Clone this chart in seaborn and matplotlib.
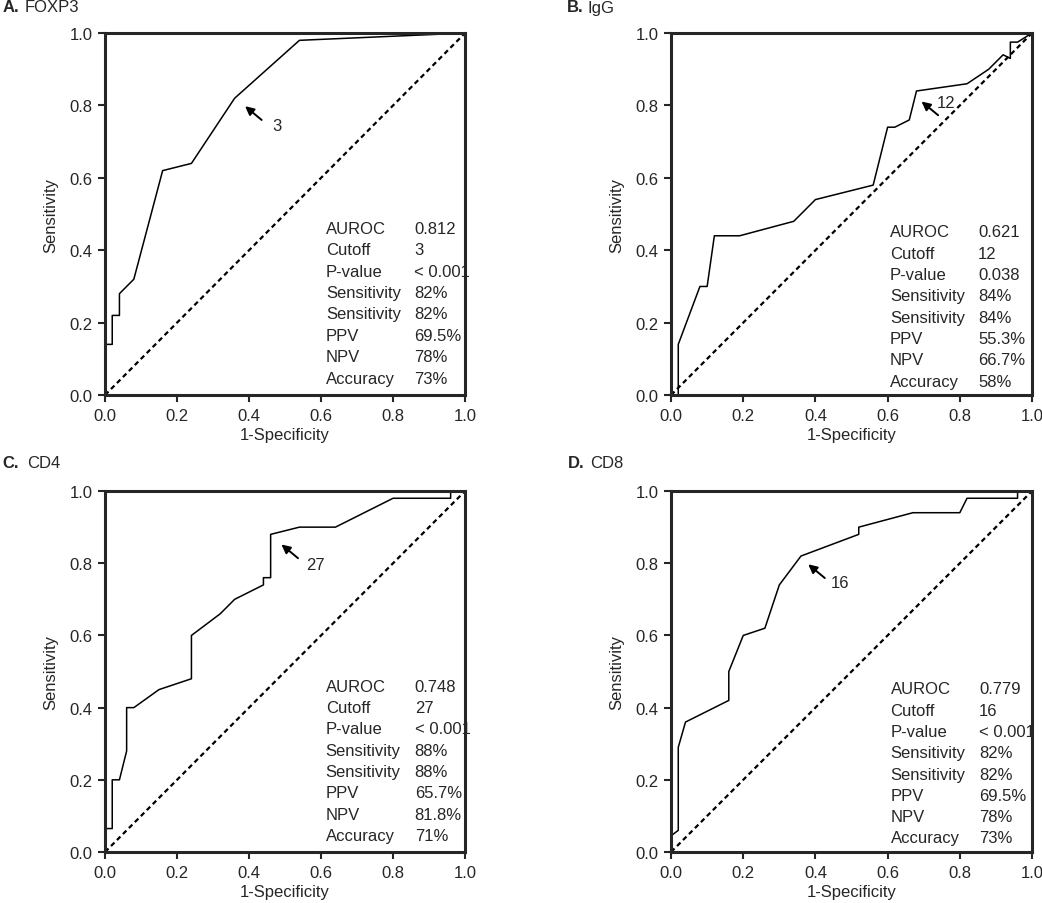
import numpy as np
import pandas as pd
import seaborn as sns
import matplotlib.pyplot as plt

# ROC curve points
foxp3_fpr = [0.0, 0.0, 0.02, 0.02, 0.04, 0.04, 0.08, 0.16, 0.24, 0.36, 0.54, 1.0]
foxp3_tpr = [0.0, 0.14, 0.14, 0.22, 0.22, 0.28, 0.32, 0.62, 0.64, 0.82, 0.98, 1.0]

igg_fpr = [0.0, 0.02, 0.02, 0.08, 0.10, 0.12, 0.19, 0.34, 0.40, 0.56, 0.60, 0.62,
           0.66, 0.68, 0.82, 0.88, 0.92, 0.94, 0.94, 0.96, 1.0]
igg_tpr = [0.0, 0.0, 0.14, 0.30, 0.30, 0.44, 0.44, 0.48, 0.54, 0.58, 0.74, 0.74,
           0.76, 0.84, 0.86, 0.90, 0.94, 0.93, 0.975, 0.975, 1.0]

cd4_fpr = [0.0, 0.0, 0.02, 0.02, 0.04, 0.06, 0.06, 0.08, 0.15, 0.24, 0.24, 0.32,
           0.36, 0.44, 0.44, 0.46, 0.46, 0.54, 0.64, 0.80, 0.96, 0.96, 1.0]
cd4_tpr = [0.0, 0.065, 0.065, 0.20, 0.20, 0.28, 0.40, 0.40, 0.45, 0.48, 0.60, 0.66,
           0.70, 0.74, 0.76, 0.76, 0.88, 0.90, 0.90, 0.98, 0.98, 1.0, 1.0]

cd8_fpr = [0.0, 0.0, 0.02, 0.02, 0.04, 0.16, 0.16, 0.20, 0.26, 0.30, 0.36, 0.52,
           0.52, 0.67, 0.80, 0.82, 0.96, 0.96, 1.0]
cd8_tpr = [0.0, 0.045, 0.06, 0.29, 0.36, 0.42, 0.50, 0.60, 0.62, 0.74, 0.82, 0.88,
           0.90, 0.94, 0.94, 0.98, 0.98, 1.0, 1.0]

stat_names = ['AUROC', 'Cutoff', 'P-value', 'Sensitivity', 'Sensitivity', 'PPV', 'NPV', 'Accuracy']
foxp3_stats = ['0.812', '3', '< 0.001', '82%', '82%', '69.5%', '78%', '73%']
igg_stats = ['0.621', '12', '0.038', '84%', '84%', '55.3%', '66.7%', '58%']
cd4_stats = ['0.748', '27', '< 0.001', '88%', '88%', '65.7%', '81.8%', '71%']
cd8_stats = ['0.779', '16', '< 0.001', '82%', '82%', '69.5%', '78%', '73%']

# cutoff point the arrow marks
foxp3_cut = (0.389, 0.798)
igg_cut = (0.694, 0.811)
cd4_cut = (0.49, 0.852)
cd8_cut = (0.38, 0.797)

sns.set_style('ticks')
plt.rcParams['font.family'] = ['Liberation Sans Narrow', 'Liberation Sans', 'DejaVu Sans']
plt.rcParams['font.size'] = 12

panels = [
    # letter, name, fpr, tpr, stats, cut, axes rect, title pos, stats x/y, label offset
    ('A.', 'FOXP3', foxp3_fpr, foxp3_tpr, foxp3_stats, foxp3_cut,
     [0.1008, 0.5619, 0.3455, 0.4004], (0.002, 0.024), (0.614, 0.859, 0.460), (0.088, -0.052)),
    ('B.', 'IgG', igg_fpr, igg_tpr, igg_stats, igg_cut,
     [0.6440, 0.5619, 0.3464, 0.4004], (0.544, 0.564), (0.606, 0.851, 0.451), (0.069, -0.004)),
    ('C.', 'CD4', cd4_fpr, cd4_tpr, cd4_stats, cd4_cut,
     [0.1008, 0.0564, 0.3455, 0.3993], (0.002, 0.026), (0.613, 0.860, 0.459), (0.095, -0.055)),
    ('D.', 'CD8', cd8_fpr, cd8_tpr, cd8_stats, cd8_cut,
     [0.6440, 0.0564, 0.3464, 0.3993], (0.545, 0.566), (0.608, 0.853, 0.452), (0.088, -0.051)),
]
title_y = [1 - 8 / 904, 1 - 8 / 904, 1 - 464 / 904, 1 - 464 / 904]

fig = plt.figure(figsize=(10.42, 9.04), dpi=100)

for n, (letter, name, fpr, tpr, stats, cut, rect, tpos, spos, loff) in enumerate(panels):
    ax = fig.add_axes(rect)
    df = pd.DataFrame({'fpr': fpr, 'tpr': tpr})
    sns.lineplot(data=df, x='fpr', y='tpr', sort=False, estimator=None,
                 color='black', lw=1.1, ax=ax)
    ax.plot([0, 1], [0, 1], ls=(0, (2.2, 1.6)), color='black', lw=1.6)

    ax.set_xlim(0, 1)
    ax.set_ylim(0, 1)
    ax.set_xticks(np.arange(0, 1.01, 0.2))
    ax.set_yticks(np.arange(0, 1.01, 0.2))
    ax.set_xticklabels(['0.0', '0.2', '0.4', '0.6', '0.8', '1.0'])
    ax.set_yticklabels(['0.0', '0.2', '0.4', '0.6', '0.8', '1.0'])
    ax.tick_params(direction='out', length=5, width=1.5, labelsize=12, pad=4)
    for s in ax.spines.values():
        s.set_linewidth(2.2)
        s.set_visible(True)
    ax.set_xlabel('1-Specificity', fontsize=12, labelpad=3)
    ax.set_ylabel('Sensitivity', fontsize=12, labelpad=8)

    # cutoff arrow and label
    tail = (cut[0] + 0.046, cut[1] - 0.038)
    ax.annotate('', xy=cut, xytext=tail,
                arrowprops=dict(arrowstyle='-|>', color='black', lw=1.4,
                                mutation_scale=13, shrinkA=0, shrinkB=0))
    ax.text(cut[0] + loff[0], cut[1] + loff[1], stats[1], fontsize=12,
            ha='center', va='center')

    # stats table
    lx, vx, ty = spos
    for i, (lab, val) in enumerate(zip(stat_names, stats)):
        y = ty - i * 0.059
        ax.text(lx, y, lab, fontsize=12, ha='left', va='center', transform=ax.transAxes)
        ax.text(vx, y, val, fontsize=12, ha='left', va='center', transform=ax.transAxes)

    # panel title
    fig.text(tpos[0], title_y[n], letter, fontsize=12, weight='bold', ha='left', va='center')
    fig.text(tpos[1], title_y[n], name, fontsize=12, ha='left', va='center')

fig.savefig('out.png', dpi=100)
